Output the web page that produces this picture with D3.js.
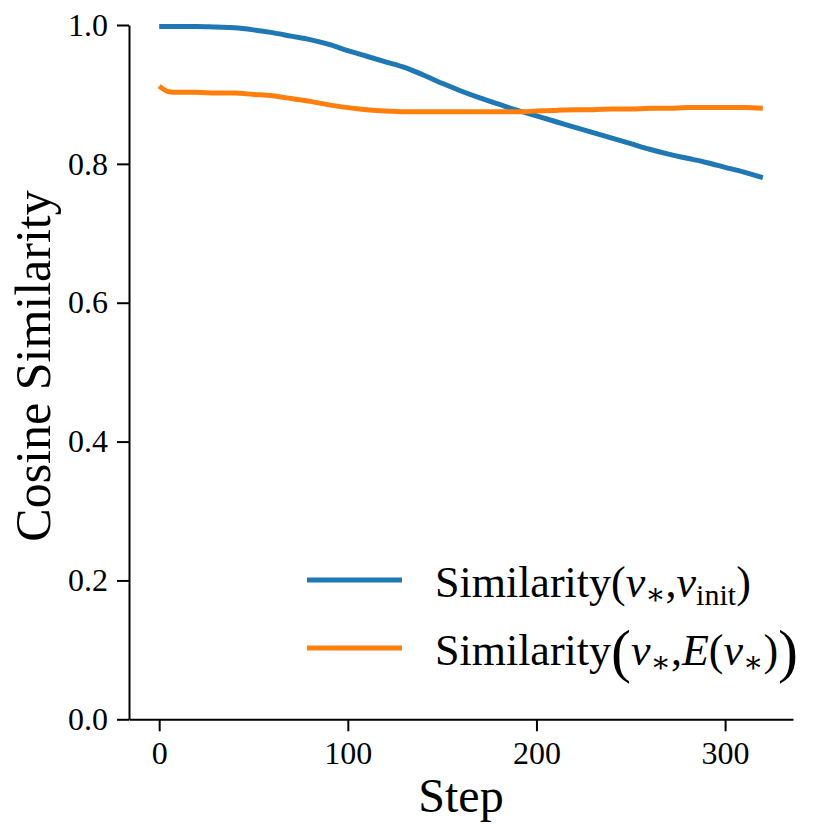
<!DOCTYPE html>
<html>
<head>
<meta charset="utf-8">
<script src="https://cdn.jsdelivr.net/npm/d3@7"></script>
<style>
  body { margin: 0; background: #fff; }
  text { font-family: "Liberation Serif", "DejaVu Serif", serif; fill: #000; }
</style>
</head>
<body>
<svg id="chart"></svg>
<script>
// data
const steps = [0, 5, 10, 20, 30, 40, 50, 60, 70, 80, 90, 100, 110, 120, 130, 140, 150, 160,
  170, 180, 190, 200, 210, 220, 230, 240, 250, 260, 270, 280, 290, 300, 310, 320];
const simInit = [0.998, 0.998, 0.998, 0.998, 0.997, 0.996, 0.993, 0.989, 0.984, 0.979, 0.972, 0.963,
  0.955, 0.947, 0.939, 0.928, 0.916, 0.905, 0.895, 0.886, 0.877, 0.869, 0.861, 0.853, 0.845,
  0.837, 0.829, 0.821, 0.814, 0.808, 0.802, 0.795, 0.788, 0.780];
const simEmb = [0.912, 0.904, 0.903, 0.903, 0.902, 0.902, 0.900, 0.898, 0.894, 0.890, 0.885, 0.881,
  0.878, 0.876, 0.875, 0.875, 0.875, 0.875, 0.875, 0.875, 0.875, 0.876, 0.877, 0.878, 0.878,
  0.879, 0.879, 0.880, 0.880, 0.881, 0.881, 0.881, 0.881, 0.880];
const xTicks = [0, 100, 200, 300];
const yTicks = [0.0, 0.2, 0.4, 0.6, 0.8, 1.0];

const W = 831, H = 836;
const svg = d3.select("#chart").attr("width", W).attr("height", H);

// axes area
const x = d3.scaleLinear().domain([-16, 336]).range([129, 793]);
const y = d3.scaleLinear().domain([0, 1]).range([719.3, 25]);

const xAxis = svg.append("g")
    .attr("transform", `translate(0,${y(0)})`)
    .call(d3.axisBottom(x).tickValues(xTicks).tickFormat(d3.format("d"))
        .tickSize(12).tickPadding(10).tickSizeOuter(0));

const yAxis = svg.append("g")
    .attr("transform", `translate(${x(-16)},0)`)
    .call(d3.axisLeft(y).tickValues(yTicks).tickFormat(d3.format(".1f"))
        .tickSize(12).tickPadding(9).tickSizeOuter(0));

[xAxis, yAxis].forEach(g => {
    g.selectAll("path, line").attr("stroke", "#000").attr("stroke-width", 2);
    g.selectAll("text").attr("font-size", 32).attr("font-family", "Liberation Serif");
});

// lines
const series = [
    { name: "init", values: simInit, color: "#1f77b4" },
    { name: "emb", values: simEmb, color: "#ff7f0e" }
];

const line = d3.line()
    .x((d, i) => x(steps[i]))
    .y(d => y(d))
    .curve(d3.curveMonotoneX);

svg.append("g").selectAll("path")
    .data(series)
    .enter().append("path")
    .attr("d", d => line(d.values))
    .attr("fill", "none")
    .attr("stroke", d => d.color)
    .attr("stroke-width", 5)
    .attr("stroke-linejoin", "round");

// axis labels
svg.append("text")
    .attr("x", 461).attr("y", 812)
    .attr("text-anchor", "middle")
    .attr("font-size", 48)
    .text("Step");

svg.append("text")
    .attr("transform", "translate(50,366) rotate(-90)")
    .attr("text-anchor", "middle")
    .attr("font-size", 50)
    .text("Cosine Similarity");

// legend
const leg = svg.append("g");
const rows = [{ y: 580, color: "#1f77b4" }, { y: 648, color: "#ff7f0e" }];
leg.selectAll("line")
    .data(rows)
    .enter().append("line")
    .attr("x1", 307).attr("x2", 402)
    .attr("y1", d => d.y).attr("y2", d => d.y)
    .attr("stroke", d => d.color)
    .attr("stroke-width", 5);

const fs = 44, sub = 30;
// row 1: Similarity(v*, v_init)
const t1 = leg.append("text").attr("x", 435).attr("y", 597).attr("font-size", fs);
t1.append("tspan").text("Similarity(");
t1.append("tspan").attr("font-style", "italic").text("v");
t1.append("tspan").attr("font-size", sub).attr("dy", 7).text("∗");
t1.append("tspan").attr("dy", -7).text(",");
t1.append("tspan").attr("font-style", "italic").text("v");
t1.append("tspan").attr("font-size", sub).attr("dy", 8).text("init");
t1.append("tspan").attr("dy", -8).text(")");

// row 2: Similarity(v*, E(v*)) with big outer parens
const t2 = leg.append("text").attr("x", 435).attr("y", 665).attr("font-size", fs);
t2.append("tspan").text("Similarity");
t2.append("tspan").attr("font-size", 60).attr("dy", 6).text("(");
t2.append("tspan").attr("dy", -6).attr("font-style", "italic").text("v");
t2.append("tspan").attr("font-size", sub).attr("dy", 7).text("∗");
t2.append("tspan").attr("dy", -7).text(",");
t2.append("tspan").attr("font-style", "italic").text("E");
t2.append("tspan").text("(");
t2.append("tspan").attr("font-style", "italic").text("v");
t2.append("tspan").attr("font-size", sub).attr("dy", 7).text("∗");
t2.append("tspan").attr("dy", -7).text(")");
t2.append("tspan").attr("font-size", 60).attr("dy", 6).text(")");
</script>
</body>
</html>
